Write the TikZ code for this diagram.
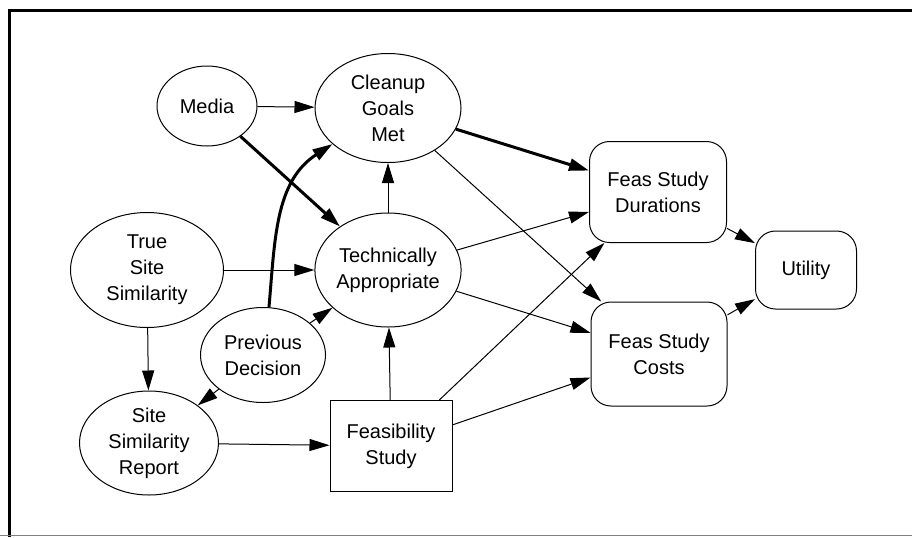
\documentclass[tikz,border=0pt]{standalone}
\usepackage{fontspec}
\setmainfont{Liberation Sans}
\usepackage{tikz}
\usetikzlibrary{shapes,arrows.meta,positioning}

\begin{document}
\begin{tikzpicture}[x=0.5pt, y=-0.5pt, line width=0.5pt,
    -{Triangle[length=10pt,width=6pt]},
    every node/.style={font=\fontsize{10}{13}\selectfont, align=center, inner sep=0pt},
    chance/.style={ellipse, draw, -},
    decision/.style={rectangle, draw, -},
    value/.style={rectangle, rounded corners=10pt, draw, -},
    heavy/.style={line width=1.5pt}]
    \useasboundingbox (0,0) rectangle (912,537);
    % frame
    \draw [-, line width=1.5pt] (9,537) -- (9,10) -- (912,10);
    \draw [-, gray] (0,535.5) -- (912,535.5);
    % nodes
    \node [chance, minimum width=50pt, minimum height=40pt] (media) at (207,106) {Media};
    \node [chance, minimum width=73pt, minimum height=54.5pt] (cleanup) at (388,108) {Cleanup\\Goals\\Met};
    \node [chance, minimum width=76.5pt, minimum height=57.5pt] (truesite) at (147,270) {True\\Site\\Similarity};
    \node [chance, minimum width=73pt, minimum height=57pt] (tech) at (388,270) {Technically\\Appropriate};
    \node [chance, minimum width=62.5pt, minimum height=47.5pt] (previous) at (263,355) {Previous\\Decision};
    \node [chance, minimum width=69.5pt, minimum height=52pt] (report) at (149,443) {Site\\Similarity\\Report};
    \node [decision, minimum width=61pt, minimum height=45.5pt] (feas) at (391,446) {Feasibility\\Study};
    \node [value, minimum width=68.5pt, minimum height=50.5pt] (durations) at (658,192) {Feas Study\\Durations};
    \node [value, minimum width=50.5pt, minimum height=39pt] (utility) at (806,270) {Utility};
    \node [value, minimum width=68pt, minimum height=52pt] (costs) at (659,354) {Feas Study\\Costs};
    % arcs
    \path (media) edge (cleanup);
    \path (media) edge [heavy] (tech);
    \path (cleanup) edge [heavy] (durations);
    \path (cleanup) edge (costs);
    \path (tech) edge (cleanup);
    \path (truesite) edge (tech);
    \path (truesite) edge (report);
    \path (previous) edge (tech);
    \path (previous.north) ++(6,0) coordinate (prevtop);
    \path (prevtop) edge [heavy, out=85, in=213] (cleanup);
    \path (previous) edge (report);
    \path (report) edge (feas);
    \path (feas) edge (tech);
    \path (feas) edge (durations);
    \path (feas) edge (costs);
    \path (tech) edge (durations);
    \path (tech) edge (costs);
    \path (durations) edge (utility);
    \path (costs) edge (utility);
\end{tikzpicture}
\end{document}
